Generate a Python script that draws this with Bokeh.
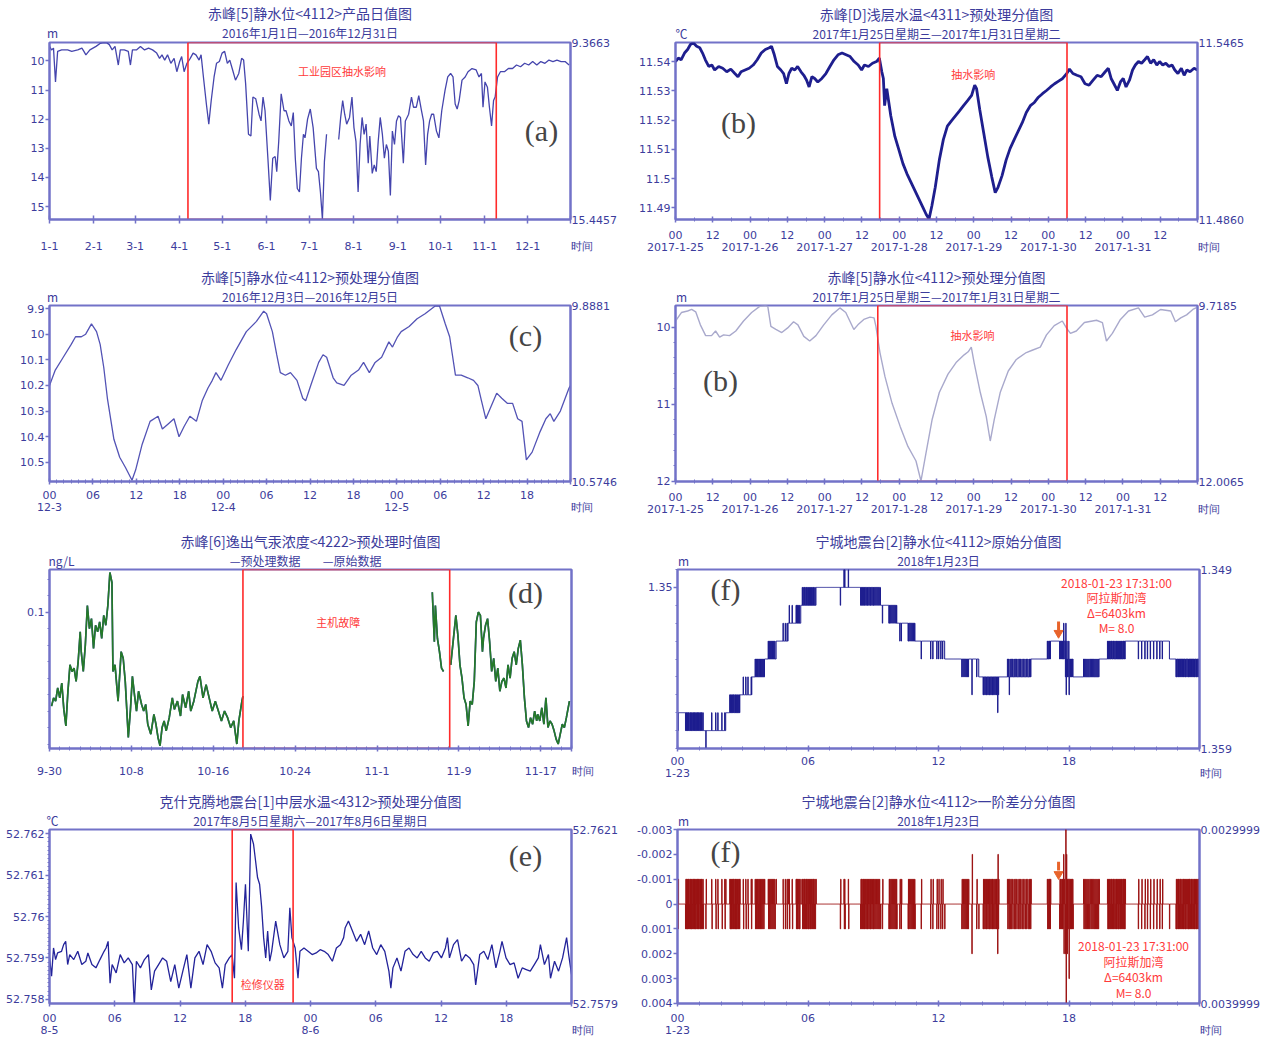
import math
from bokeh.plotting import figure
from bokeh.models import Range1d, LinearAxis, FixedTicker, CustomJSTickFormatter, Label
from bokeh.layouts import column, row
from bokeh.embed import file_html
from bokeh.resources import INLINE

NAN = float("nan")

# ---------------- (a) daily water level 2016 ----------------
a_ticks = [0, 31, 60, 91, 121, 152, 182, 213, 244, 274, 305, 335]
a_tick_labels = ["1-1", "2-1", "3-1", "4-1", "5-1", "6-1", "7-1", "8-1", "9-1", "10-1", "11-1", "12-1"]
a_day = [0, 1.4, 2.8, 4.2, 5.7, 8.5, 12.7, 15.6, 19.8, 22.7,
         24.1, 25.5, 28.3, 32.6, 35.4, 38.2, 40.2, 41.9, 43.9, 45.9,
         48.2, 49.6, 52.4, 55.2, 56.7, 58.1, 60.9, 63.7, 66.6, 69.4,
         72.2, 75.1, 77.1, 78.8, 80.7, 82.7, 85.0, 87.3, 89.2, 91.2,
         92.6, 94.3, 96.3, 98.6, 100.6, 102.6, 104.8, 106.2, 107.7, 109.9,
         111.6, 113.3, 115.3, 117.0, 119.0, 120.9, 122.7, 124.6, 126.3, 128.3,
         130.3, 132.6, 134.6, 136.0, 137.4, 139.4, 141.1, 142.5, 144.5, 146.8,
         148.2, 149.6, 151.0, 153.0, 154.7, 156.4, 158.1, 159.2, 160.6, 162.3,
         164.3, 165.7, 167.7, 169.4, 170.8, 172.2, 173.6, 175.1, 176.5, 177.9,
         179.0, 180.8, 182.7, 184.7, 187.0, 188.4, 189.8, 191.2, 192.6, 194.1,
         198.0, 202.6, 204.0, 205.4, 206.8, 208.2, 210.2, 211.9, 213.3, 214.7,
         216.2, 217.6, 219.0, 220.4, 221.8, 223.3, 224.4, 226.1, 227.5, 228.9,
         230.3, 231.7, 233.2, 234.6, 236.0, 237.4, 238.8, 240.2, 241.7, 243.1,
         244.5, 245.9, 247.9, 249.3, 251.6, 253.6, 255.0, 257.0, 258.7, 260.6,
         262.0, 263.5, 264.9, 266.3, 267.7, 269.1, 271.1, 272.8, 274.8, 277.1,
         279.0, 281.0, 282.7, 284.2, 285.6, 287.0, 289.0, 291.2, 293.2, 296.0,
         298.9, 300.9, 302.6, 303.7, 305.1, 306.8, 308.2, 309.7, 311.1, 312.2,
         313.9, 315.9, 318.7, 321.5, 324.4, 327.2, 330.0, 332.9, 335.7, 338.5,
         341.4, 344.2, 347.1, 349.9, 352.7, 355.5, 358.4, 361.2, 364.0]
a_level = [9.50, 9.62, 9.56, 10.72, 9.67, 9.62, 9.62, 9.67, 9.62, 9.56,
           9.67, 9.79, 9.62, 9.50, 9.40, 9.37, 9.38, 9.44, 9.62, 9.50,
           10.14, 9.62, 9.62, 9.67, 10.14, 9.62, 9.62, 9.50, 9.62, 9.56,
           9.62, 9.73, 9.91, 9.79, 9.97, 9.79, 10.08, 9.91, 10.37, 10.02,
           9.85, 10.37, 10.08, 9.91, 9.73, 9.79, 9.97, 9.79, 10.49, 11.48,
           12.17, 11.36, 10.55, 10.08, 10.02, 9.73, 9.67, 10.08, 9.97, 10.31,
           10.66, 10.43, 9.91, 9.97, 10.78, 12.52, 12.58, 11.24, 11.30, 11.83,
           12.06, 11.24, 11.71, 13.34, 14.79, 13.34, 13.28, 13.80, 12.76, 11.13,
           11.71, 11.71, 12.06, 12.23, 11.77, 13.34, 14.38, 14.50, 13.34, 12.52,
           12.64, 12.00, 11.65, 12.29, 13.69, 13.80, 14.50, 15.44, 13.45, 12.52,
           NAN, 12.70, 11.94, 11.36, 11.83, 12.17, 11.94, 11.24, 12.29, 12.76,
           14.50, 12.87, 11.94, 12.52, 12.17, 13.51, 12.58, 13.86, 13.57, 13.80,
           12.76, 11.94, 12.52, 13.34, 12.87, 13.10, 14.62, 12.41, 12.87, 12.06,
           11.88, 11.94, 13.51, 12.06, 11.83, 11.24, 11.59, 11.59, 11.19, 11.71,
           12.06, 13.57, 12.52, 12.06, 11.83, 11.83, 12.41, 12.64, 11.71, 11.01,
           10.55, 10.43, 10.55, 11.48, 11.65, 11.36, 10.66, 10.55, 10.37, 10.26,
           10.31, 10.55, 10.43, 11.59, 10.72, 10.90, 11.59, 12.23, 11.36, 11.24,
           10.55, 10.37, 10.37, 10.26, 10.26, 10.14, 10.20, 10.08, 10.14, 10.02,
           10.14, 10.02, 10.08, 9.97, 10.02, 9.97, 10.02, 10.02, 10.14]
a_box = [97, 313]

# ---------------- (b) shallow water temperature ----------------
week_ticks = [0, 12, 24, 36, 48, 60, 72, 84, 96, 108, 120, 132, 144, 156]
week_labels = ["00\n2017-1-25", "12", "00\n2017-1-26", "12", "00\n2017-1-27", "12", "00\n2017-1-28",
               "12", "00\n2017-1-29", "12", "00\n2017-1-30", "12", "00\n2017-1-31", "12"]
b_hour = [0, 0.9, 1.8, 2.9, 3.9, 4.8, 5.7, 6.8, 7.8, 8.7,
          9.6, 10.7, 11.7, 12.6, 13.9, 15.2, 16.5, 17.8, 19.1, 20.1,
          21.1, 22.4, 23.7, 25.0, 26.3, 27.6, 28.9, 30.2, 30.9, 31.8,
          32.8, 33.9, 34.8, 35.7, 36.5, 37.4, 38.4, 39.3, 40.4, 41.3,
          42.2, 43.0, 43.9, 44.8, 45.8, 47.1, 48.4, 49.7, 51.0, 52.3,
          53.6, 54.9, 56.2, 57.5, 58.8, 59.9, 60.8, 62.1, 63.4, 64.7,
          65.6, 66.4, 66.9, 67.3, 68.0, 69.3, 70.6, 71.9, 73.2, 74.5,
          75.8, 77.1, 78.4, 79.7, 80.7, 81.6, 82.5, 83.6, 84.9, 86.2,
          87.5, 88.8, 90.1, 91.4, 92.7, 94.0, 95.3, 96.3, 96.9, 97.9,
          99.2, 100.5, 101.8, 102.9, 103.8, 105.1, 106.4, 107.7, 109.0, 110.3,
          111.6, 112.9, 114.2, 115.5, 116.8, 118.1, 119.4, 120.7, 122.0, 123.3,
          124.6, 125.9, 126.8, 127.9, 129.2, 130.5, 131.8, 133.1, 134.4, 135.7,
          137.0, 138.3, 139.3, 140.2, 141.1, 142.2, 143.2, 144.1, 145.0, 146.1,
          147.1, 148.0, 149.0, 150.0, 151.0, 151.9, 152.9, 153.9, 154.9, 155.8,
          156.8, 157.8, 158.8, 159.8, 160.7, 161.7, 162.8, 163.7, 164.6, 165.6,
          166.9, 168.0]
b_temp = [11.5400, 11.5412, 11.5406, 11.5429, 11.5441, 11.5458, 11.5464, 11.5452, 11.5447, 11.5429,
          11.5406, 11.5383, 11.5388, 11.5371, 11.5383, 11.5377, 11.5365, 11.5374, 11.5359, 11.5348,
          11.5365, 11.5371, 11.5377, 11.5388, 11.5406, 11.5429, 11.5441, 11.5447, 11.5452, 11.5423,
          11.5383, 11.5371, 11.5359, 11.5324, 11.5359, 11.5377, 11.5371, 11.5383, 11.5365, 11.5353,
          11.5336, 11.5313, 11.5348, 11.5342, 11.5330, 11.5342, 11.5359, 11.5383, 11.5406, 11.5423,
          11.5429, 11.5423, 11.5417, 11.5400, 11.5388, 11.5371, 11.5388, 11.5383, 11.5394, 11.5400,
          11.5412, 11.5365, 11.5342, 11.5249, 11.5307, 11.5214, 11.5144, 11.5098, 11.5051, 11.5016,
          11.4987, 11.4958, 11.4929, 11.4900, 11.4877, 11.4862, 11.4906, 11.4970, 11.5063, 11.5133,
          11.5179, 11.5197, 11.5214, 11.5231, 11.5249, 11.5266, 11.5284, 11.5319, 11.5307, 11.5237,
          11.5156, 11.5074, 11.5005, 11.4952, 11.4970, 11.5010, 11.5063, 11.5103, 11.5133, 11.5162,
          11.5191, 11.5226, 11.5249, 11.5260, 11.5278, 11.5290, 11.5301, 11.5313, 11.5324, 11.5333,
          11.5342, 11.5359, 11.5374, 11.5359, 11.5353, 11.5348, 11.5324, 11.5319, 11.5336, 11.5353,
          11.5348, 11.5365, 11.5377, 11.5342, 11.5324, 11.5301, 11.5330, 11.5342, 11.5313, 11.5336,
          11.5371, 11.5388, 11.5400, 11.5394, 11.5406, 11.5417, 11.5394, 11.5406, 11.5388, 11.5400,
          11.5388, 11.5394, 11.5383, 11.5388, 11.5371, 11.5359, 11.5377, 11.5353, 11.5371, 11.5365,
          11.5377, 11.5371]
b_box = [65.7, 126.0]

# ---------------- (c) water level 12-3 .. 12-5 ----------------
c_ticks = [0, 6, 12, 18, 24, 30, 36, 42, 48, 54, 60, 66]
c_tick_labels = ["00\n12-3", "06", "12", "18", "00\n12-4", "06", "12", "18", "00\n12-5", "06", "12", "18"]
c_hour = [0, 0.8, 1.9, 3.0, 3.6, 4.4, 5.0, 5.8, 6.5, 7.0,
          7.5, 8.0, 8.9, 9.7, 10.5, 11.4, 11.9, 12.8, 13.9, 15.0,
          15.6, 16.4, 17.2, 17.9, 18.6, 19.4, 20.3, 21.1, 21.9, 22.5,
          23.0, 23.7, 24.7, 25.8, 27.2, 28.6, 29.6, 30.0, 30.8, 31.4,
          31.9, 32.6, 33.3, 34.2, 35.0, 35.4, 36.1, 37.2, 37.8, 38.3,
          39.2, 39.7, 40.7, 41.7, 42.7, 43.4, 44.2, 45.0, 45.9, 46.9,
          47.4, 48.1, 48.6, 49.7, 50.8, 51.9, 53.3, 53.9, 54.7, 55.3,
          56.1, 56.9, 57.8, 58.6, 59.2, 59.7, 60.3, 60.9, 61.8, 62.5,
          63.3, 64.0, 64.7, 65.3, 65.9, 66.7, 67.8, 68.6, 69.2, 69.7,
          70.6, 71.8, 72.0]
c_level = [10.20, 10.14, 10.09, 10.04, 10.01, 10.01, 10.00, 9.96, 9.99, 10.04,
           10.13, 10.25, 10.41, 10.48, 10.52, 10.57, 10.53, 10.43, 10.34, 10.32,
           10.37, 10.35, 10.33, 10.40, 10.36, 10.32, 10.34, 10.26, 10.21, 10.18,
           10.15, 10.18, 10.12, 10.06, 9.99, 9.95, 9.91, 9.92, 9.99, 10.08,
           10.15, 10.16, 10.15, 10.18, 10.25, 10.26, 10.20, 10.11, 10.08, 10.09,
           10.17, 10.19, 10.20, 10.16, 10.14, 10.11, 10.15, 10.11, 10.09, 10.03,
           10.05, 10.01, 9.99, 9.97, 9.94, 9.92, 9.89, 9.89, 9.96, 10.01,
           10.16, 10.16, 10.17, 10.18, 10.20, 10.26, 10.33, 10.29, 10.23, 10.25,
           10.27, 10.27, 10.33, 10.34, 10.49, 10.46, 10.38, 10.33, 10.31, 10.34,
           10.30, 10.21, 10.20]

# ---------------- (b') water level 1-25 .. 1-31 ----------------
b2_hour = [0, 1.9, 3.9, 5.2, 6.5, 8.0, 9.7, 11.6, 12.9, 14.2,
           15.5, 17.4, 19.4, 21.9, 24.5, 27.1, 29.0, 29.7, 30.7, 32.3,
           34.2, 36.1, 38.0, 39.4, 41.3, 43.2, 45.2, 47.7, 50.3, 52.9,
           54.8, 57.4, 58.7, 60.6, 62.6, 63.9, 64.5, 65.8, 67.4, 69.7,
           72.3, 74.8, 77.4, 79.0, 80.6, 82.6, 84.9, 87.7, 90.3, 92.9,
           94.2, 95.2, 96.1, 98.1, 100.0, 101.3, 102.6, 104.5, 107.1, 109.7,
           112.9, 114.8, 117.4, 119.4, 121.9, 124.5, 125.8, 127.1, 129.0, 131.6,
           135.5, 137.4, 138.7, 140.6, 143.2, 145.8, 149.0, 151.0, 153.5, 156.1,
           159.4, 160.9, 162.6, 164.5, 166.5, 168.0]
b2_level = [9.92, 9.81, 9.79, 9.77, 9.80, 9.97, 10.11, 10.11, 10.05, 10.13,
            10.10, 10.11, 10.05, 9.92, 9.81, 9.73, 9.72, 9.73, 9.99, 10.03,
            10.07, 10.01, 9.93, 9.97, 10.12, 10.18, 10.11, 9.97, 9.84, 9.75,
            9.81, 10.03, 9.97, 9.90, 9.87, 9.88, 9.99, 10.33, 10.64, 10.99,
            11.29, 11.55, 11.74, 12.00, 11.64, 11.20, 10.85, 10.61, 10.46, 10.36,
            10.32, 10.26, 10.46, 10.85, 11.16, 11.48, 11.20, 10.85, 10.57, 10.42,
            10.33, 10.30, 10.26, 10.10, 9.98, 9.92, 10.01, 10.08, 10.05, 9.94,
            9.91, 9.94, 10.18, 10.08, 9.90, 9.79, 9.75, 9.87, 9.84, 9.77,
            9.79, 9.93, 9.88, 9.84, 9.77, 9.74]
b2_box = [65.1, 126.0]

# ---------------- (d) soil-gas mercury ----------------
d_ticks = [0, 8, 16, 24, 32, 40, 48]
d_tick_labels = ["9-30", "10-8", "10-16", "10-24", "11-1", "11-9", "11-17"]
d_legend = ["—预处理数据", "—原始数据"]
d_day = [0.2, 0.4, 0.6, 0.8, 1.0, 1.2, 1.4, 1.6, 1.8, 2.0,
         2.2, 2.4, 2.6, 2.8, 3.0, 3.1, 3.3, 3.5, 3.7, 3.9,
         4.1, 4.3, 4.5, 4.7, 4.9, 5.1, 5.3, 5.5, 5.7, 5.9,
         6.1, 6.2, 6.4, 6.7, 7.0, 7.2, 7.4, 7.7, 7.9, 8.1,
         8.3, 8.5, 8.7, 9.0, 9.2, 9.4, 9.6, 9.9, 10.2, 10.4,
         10.6, 10.8, 11.0, 11.2, 11.4, 11.7, 12.0, 12.2, 12.5, 12.8,
         13.0, 13.3, 13.6, 13.8, 14.1, 14.5, 14.7, 15.0, 15.3, 15.6,
         15.9, 16.2, 16.5, 16.8, 17.1, 17.4, 17.7, 18.0, 18.3, 18.5,
         18.8, 18.9, 28.0,
         37.4, 37.6, 37.7, 37.9, 38.1, 38.3, 38.5, 38.8,
         39.2, 39.5, 39.7, 39.9, 40.1, 40.3, 40.5, 40.7, 40.9, 41.1,
         41.3, 41.5, 41.7, 41.9, 42.1, 42.3, 42.4, 42.6, 42.8, 43.0,
         43.2, 43.4, 43.6, 43.8, 44.0, 44.2, 44.4, 44.6, 44.8, 45.0,
         45.2, 45.4, 45.6, 45.8, 46.0, 46.2, 46.4, 46.6, 46.8, 47.0,
         47.2, 47.4, 47.6, 47.7, 47.9, 48.1, 48.3, 48.5, 48.7, 48.9,
         49.1, 49.3, 49.5, 49.7, 49.9, 50.1, 50.3, 50.5, 50.8]
d_conc = [0.043, 0.048, 0.046, 0.054, 0.048, 0.057, 0.041, 0.031, 0.052, 0.068,
          0.064, 0.066, 0.058, 0.070, 0.088, 0.076, 0.064, 0.080, 0.104, 0.090,
          0.096, 0.078, 0.092, 0.088, 0.094, 0.084, 0.098, 0.092, 0.104, 0.124,
          0.118, 0.064, 0.068, 0.046, 0.076, 0.072, 0.058, 0.024, 0.040, 0.061,
          0.050, 0.040, 0.052, 0.044, 0.040, 0.044, 0.032, 0.026, 0.038, 0.032,
          0.024, 0.019, 0.030, 0.034, 0.028, 0.036, 0.048, 0.041, 0.046, 0.037,
          0.050, 0.042, 0.052, 0.040, 0.046, 0.058, 0.061, 0.048, 0.056, 0.048,
          0.040, 0.046, 0.040, 0.034, 0.040, 0.036, 0.030, 0.034, 0.020, 0.034,
          0.046, 0.049, NAN,
          0.112, 0.082, 0.104, 0.084, 0.076, 0.066, 0.064, NAN,
          0.068, 0.086, 0.098, 0.086, 0.068, 0.060, 0.048, 0.044, 0.031, 0.046,
          0.044, 0.058, 0.094, 0.100, 0.098, 0.076, 0.084, 0.092, 0.096, 0.082,
          0.064, 0.072, 0.058, 0.066, 0.052, 0.058, 0.060, 0.054, 0.068, 0.060,
          0.072, 0.076, 0.068, 0.078, 0.083, 0.068, 0.048, 0.034, 0.030, 0.036,
          0.032, 0.040, 0.034, 0.038, 0.034, 0.042, 0.032, 0.048, 0.030, 0.034,
          0.032, 0.028, 0.023, 0.020, 0.026, 0.032, 0.030, 0.036, 0.046]
d_box = [18.9, 39.1]

# ---------------- (e) mid-layer water temperature ----------------
e_ticks = [0, 6, 12, 18, 24, 30, 36, 42]
e_tick_labels = ["00\n8-5", "06", "12", "18", "00\n8-6", "06", "12", "18"]
e_hour = [0.00, 0.19, 0.37, 0.56, 0.74, 1.11, 1.30, 1.49, 1.67, 1.86,
          2.23, 2.60, 2.97, 3.34, 3.53, 3.90, 4.27, 4.64, 5.02, 5.20,
          5.39, 5.57, 5.76, 6.13, 6.50, 6.87, 7.24, 7.62, 7.80, 7.99,
          8.36, 8.73, 9.10, 9.36, 9.66, 10.03, 10.40, 10.77, 11.15, 11.52,
          11.89, 12.26, 12.63, 13.00, 13.37, 13.75, 14.12, 14.49, 14.86, 15.23,
          15.60, 15.90, 16.16, 16.53, 16.79, 17.01, 17.16, 17.39, 17.65, 17.83,
          18.02, 18.28, 18.50, 18.76, 18.95, 19.13, 19.32, 19.50, 19.69, 19.88,
          20.06, 20.25, 20.43, 20.80, 21.18, 21.55, 21.92, 22.10, 22.29, 22.59,
          22.85, 23.03, 23.40, 23.78, 24.15, 24.52, 24.89, 25.26, 25.63, 26.01,
          26.38, 26.75, 27.05, 27.19, 27.49, 27.86, 28.23, 28.61, 28.98, 29.35,
          29.72, 30.09, 30.46, 30.83, 31.21, 31.39, 31.58, 31.95, 32.32, 32.69,
          33.06, 33.44, 33.81, 34.18, 34.55, 34.92, 35.29, 35.66, 36.04, 36.41,
          36.59, 36.78, 37.15, 37.52, 37.89, 38.26, 38.64, 39.01, 39.19, 39.56,
          39.94, 40.31, 40.68, 41.05, 41.42, 41.61, 41.98, 42.35, 42.72, 43.09,
          43.47, 43.84, 44.21, 44.58, 44.95, 45.14, 45.51, 45.88, 46.07, 46.44,
          46.81, 47.18, 47.55, 47.74, 48.00]
e_temp = [52.75900, 52.75856, 52.75924, 52.75896, 52.75912, 52.75916, 52.75932, 52.75940, 52.75884, 52.75908,
          52.75896, 52.75916, 52.75884, 52.75892, 52.75912, 52.75884, 52.75876, 52.75896, 52.75916, 52.75924,
          52.75940, 52.75839, 52.75884, 52.75864, 52.75908, 52.75888, 52.75900, 52.75884, 52.75783, 52.75892,
          52.75876, 52.75896, 52.75908, 52.75823, 52.75868, 52.75884, 52.75900, 52.75892, 52.75843, 52.75884,
          52.75827, 52.75868, 52.75908, 52.75827, 52.75900, 52.75916, 52.75884, 52.75932, 52.75916, 52.75888,
          52.75876, 52.75827, 52.75884, 52.75900, 52.75908, 52.75851, 52.76082, 52.75973, 52.75920, 52.75989,
          52.76078, 52.75916, 52.76199, 52.76175, 52.76134, 52.76094, 52.76078, 52.76025, 52.75949, 52.75900,
          52.75965, 52.75892, 52.75916, 52.75989, 52.75932, 52.75900, 52.75916, 52.76021, 52.75949, 52.75924,
          52.75851, 52.75916, 52.75924, 52.75916, 52.75908, 52.75912, 52.75920, 52.75916, 52.75908, 52.75892,
          52.75924, 52.75932, 52.75949, 52.75973, 52.75989, 52.75965, 52.75940, 52.75957, 52.75932, 52.75965,
          52.75924, 52.75908, 52.75932, 52.75916, 52.75868, 52.75827, 52.75876, 52.75900, 52.75868, 52.75916,
          52.75924, 52.75908, 52.75900, 52.75916, 52.75900, 52.75892, 52.75912, 52.75916, 52.75900, 52.75924,
          52.75949, 52.75900, 52.75932, 52.75944, 52.75892, 52.75908, 52.75900, 52.75884, 52.75835, 52.75908,
          52.75916, 52.75896, 52.75932, 52.75876, 52.75916, 52.75940, 52.75900, 52.75884, 52.75888, 52.75851,
          52.75876, 52.75872, 52.75868, 52.75884, 52.75900, 52.75932, 52.75884, 52.75908, 52.75851, 52.75892,
          52.75868, 52.75900, 52.75949, 52.75908, 52.75860]
e_box = [16.8, 22.4]

# ---------------- (f) Ningcheng water level, minute values ----------------
f_ticks = [0, 6, 12, 18]
f_tick_labels = ["00\n1-23", "06", "12", "18"]
f_base_min = [0, 22, 133, 172, 205, 240, 272, 305, 340, 382, 560, 605, 655, 737, 831, 975, 1030, 1075, 1163, 1235, 1357]
f_base_level = [1.357, 1.358, 1.357, 1.356, 1.355, 1.354, 1.353, 1.352, 1.351, 1.350, 1.351, 1.352, 1.353,
                1.354, 1.355, 1.354, 1.353, 1.355, 1.354, 1.353, 1.354]
# one-minute excursions: (level reached, minutes at which it occurs)
f_flicks = [
    (1.358, [1]),
    (1.357, [23, 25, 27, 29, 31, 34, 36, 38, 40, 43, 45, 47, 49, 52, 54, 56, 58, 61, 63, 65, 67, 70]),
    (1.359, [78]),
    (1.357, [94, 105, 111, 122, 130]),
    (1.356, [144, 146, 148, 151, 153, 155, 158, 160, 162, 165, 167, 170]),
    (1.355, [181, 188, 194, 203]),
    (1.354, [214, 217, 220, 222, 225, 228, 231, 234, 237]),
    (1.353, [250, 253, 256, 259, 262, 265, 268]),
    (1.352, [291, 297, 302]),
    (1.351, [308, 316, 327, 329, 331, 334, 336]),
    (1.350, [344, 346, 349, 351, 354, 356, 359, 361, 364, 366, 369, 371, 374, 376, 379]),
    (1.351, [449]),
    (1.349, [459, 461, 471]),
    (1.351, [505, 507, 510, 512, 515, 517, 520, 523, 525, 528, 531, 533, 536, 539, 541, 544, 547, 550, 553, 556]),
    (1.352, [565, 583, 585, 588, 591, 594, 597, 600, 603]),
    (1.353, [613, 617, 636, 638, 641, 644, 647, 650, 653]),
    (1.354, [672, 698, 704, 715, 720, 726, 731]),
    (1.355, [784, 787, 790, 793, 796, 799, 802, 825]),
    (1.356, [812]),
    (1.356, [843, 845, 848, 851, 853, 856, 859, 861, 864, 867, 869, 872, 875, 878, 880, 885]),
    (1.357, [883]),
    (1.354, [910, 913, 917, 920, 924, 928, 931, 935, 939, 943, 946, 950, 954, 958, 962, 966, 970, 973]),
    (1.356, [915]),
    (1.353, [1020, 1022, 1025, 1027, 1029]),
    (1.354, [1054, 1056, 1059, 1061, 1063, 1064, 1066]),
    (1.352, [1065, 1071]),
    (1.355, [1070]),
    (1.356, [1072]),
    (1.354, [1073, 1076, 1078, 1082, 1084, 1086, 1088, 1090]),
    (1.353, [1079]),
    (1.356, [1080]),
    (1.354, [1120, 1123, 1126, 1129, 1132, 1135, 1139, 1142, 1145, 1148, 1151, 1154, 1157, 1160]),
    (1.353, [1186, 1188, 1191, 1193, 1196, 1198, 1201, 1203, 1206, 1209, 1211, 1214, 1216, 1219, 1221, 1224,
             1226, 1229, 1231, 1233]),
    (1.354, [1271, 1280, 1289, 1296, 1304, 1313, 1322, 1330, 1337]),
    (1.355, [1375, 1377, 1380, 1382, 1385, 1387, 1390, 1393, 1395, 1397, 1400, 1402, 1405, 1408, 1410, 1412,
             1415, 1417, 1420, 1423, 1425, 1427, 1430, 1432, 1435, 1437]),
]
f_quake_hour = 17.52
f_quake_text = ["2018-01-23 17:31:00", "阿拉斯加湾", "Δ=6403km", "M= 8.0"]

# ---------------- styling ----------------
FRAME = "#7272c8"
TXT = "#3c3c9c"
CJK = "Noto Sans CJK SC"
NUM = "DejaVu Sans"
RED = "#ff2a2a"
RED_T = "#ff3a3a"
EM = "\u2003"
EN = "\u2002"
TIME_LABEL = EM + EM + "时间"


def panel(w, h, bl, br, bt, bb, xr, yr):
    p = figure(width=w, height=h, x_range=Range1d(*xr), y_range=Range1d(*yr),
               output_backend="svg", toolbar_location=None,
               min_border_left=bl, min_border_right=br, min_border_top=bt, min_border_bottom=bb)
    p.grid.visible = False
    p.outline_line_color = FRAME
    p.outline_line_width = 2
    p.background_fill_color = "white"
    p.border_fill_color = "white"
    return p


def style(ax, size=11, font=NUM):
    ax.axis_line_color = FRAME
    ax.axis_line_width = 2
    ax.major_tick_line_color = FRAME
    ax.major_tick_line_width = 1.5
    ax.minor_tick_line_color = FRAME
    ax.minor_tick_line_width = 1
    ax.major_label_text_color = TXT
    ax.major_label_text_font = font
    ax.major_label_text_font_size = f"{size}px"


def xaxis(p, ticks, labels, minor, standoff, tin=3, tout=3, two_line=True):
    ax = p.xaxis[0]
    xe = p.x_range.end
    all_ticks = list(ticks) + [xe]
    all_labels = list(labels) + [("\n" if two_line else "") + TIME_LABEL]
    ax.ticker = FixedTicker(ticks=all_ticks, minor_ticks=minor)
    ax.major_label_overrides = dict(zip(all_ticks, all_labels))
    style(ax)
    ax.major_label_text_line_height = 0.95
    ax.major_tick_in = tin
    ax.major_tick_out = tout
    ax.minor_tick_in = 2
    ax.minor_tick_out = 2
    ax.major_label_standoff = standoff


def yaxis(p, ticks, minor, right_labels):
    ax = p.yaxis[0]
    ax.ticker = FixedTicker(ticks=ticks, minor_ticks=minor)
    ax.formatter = CustomJSTickFormatter(code="return String(+tick.toFixed(7));")
    style(ax)
    ax.major_tick_in = 0
    ax.major_tick_out = 4
    ax.minor_tick_in = 0
    ax.minor_tick_out = 2
    ax.major_label_standoff = 1
    yb, yt = p.y_range.start, p.y_range.end
    r = LinearAxis(ticker=FixedTicker(ticks=[yb, yt]),
                   major_label_overrides={yb: right_labels[0], yt: right_labels[1]})
    style(r)
    r.major_tick_in = 0
    r.major_tick_out = 0
    r.minor_tick_in = 0
    r.minor_tick_out = 0
    r.major_label_standoff = 1
    p.add_layout(r, "right")


def heads(p, title, items, t_standoff=-4, a_standoff=1):
    """Main title (figure title) and one header row (unit + subtitle) as a label-only top axis."""
    p.title.text = title
    p.title.align = "center"
    p.title.text_font = CJK
    p.title.text_font_size = "14px"
    p.title.text_font_style = "normal"
    p.title.text_color = TXT
    try:
        p.title.standoff = t_standoff
    except Exception:
        p.title.standoff = 0
    ticks = [t for t, _ in items]
    labels = [s for _, s in items]
    top = LinearAxis(ticker=FixedTicker(ticks=ticks, minor_ticks=[]),
                     major_label_overrides=dict(zip(ticks, labels)))
    style(top, size=12, font=CJK)
    top.axis_line_color = None
    top.major_tick_line_color = None
    top.minor_tick_line_color = None
    top.major_tick_in = 0
    top.major_tick_out = 0
    top.minor_tick_in = 0
    top.minor_tick_out = 0
    top.major_label_standoff = a_standoff
    p.add_layout(top, "above")


def note(p, where, dx, dy, text, size=12, color=TXT, font=CJK, xval=None):
    xs, xe = p.x_range.start, p.x_range.end
    yb, yt = p.y_range.start, p.y_range.end
    x = {"l": xs, "r": xe, "c": (xs + xe) / 2}[where[1]] if xval is None else xval
    y = yt if where[0] == "t" else yb
    p.add_layout(Label(x=x, y=y, x_offset=dx, y_offset=dy, text=text, text_font=font,
                       text_font_size=f"{size}px", text_color=color, text_align="center",
                       text_baseline="middle"))


def tag(p, where, dx, dy, text):
    note(p, where, dx, dy, text, size=30, color="#454545", font="Liberation Serif")


def redbox(p, box):
    p.quad(left=[box[0]], right=[box[1]], bottom=[p.y_range.start], top=[p.y_range.end],
           fill_alpha=0, line_color=RED, line_width=1.6)


W = 632
hours_minor6 = [h for h in range(0, 169, 6)]

# ---- (a)
pa = panel(W, 262, 49, 62, 39, 43, (0, 365), (15.4457, 9.3663))
pa.line(a_day, a_level, line_color="#4545ad", line_width=1.3)
redbox(pa, a_box)
xaxis(pa, a_ticks, a_tick_labels, [], 16, tin=4, tout=4, two_line=False)
yaxis(pa, [10, 11, 12, 13, 14, 15], [], ["15.4457", "9.3663"])
heads(pa, "赤峰[5]静水位<4112>产品日值图", [(0, EN + "m"), (182.5, "2016年1月1日—2016年12月31日")], a_standoff=2)
note(pa, "tc", 0, -28, "工业园区抽水影响", size=11, color=RED_T, xval=sum(a_box) / 2)
tag(pa, "tr", -29, -88, "(a)")

# ---- (b)
pb = panel(W, 262, 43, 67, 42, 42, (0, 168), (11.486, 11.5465))
pb.line(b_hour, b_temp, line_color="#1e1e8e", line_width=2.8)
redbox(pb, b_box)
xaxis(pb, week_ticks, week_labels, hours_minor6, 6)
yaxis(pb, [11.49, 11.5, 11.51, 11.52, 11.53, 11.54], [], ["11.4860", "11.5465"])
heads(pb, "赤峰[D]浅层水温<4311>预处理分值图", [(0, EM + "℃"), (84, "2017年1月25日星期三—2017年1月31日星期二")])
note(pb, "tc", 0, -31, "抽水影响", size=11, color=RED_T, xval=sum(b_box) / 2)
tag(pb, "tl", 63, -80, "(b)")

# ---- (c)
pc = panel(W, 263, 49, 62, 43, 40, (0, 72), (10.5746, 9.8881))
pc.line(c_hour, c_level, line_color="#5353b5", line_width=1.3)
xaxis(pc, c_ticks, c_tick_labels, list(range(0, 73)), 4)
yaxis(pc, [9.9, 10.0, 10.1, 10.2, 10.3, 10.4, 10.5], [], ["10.5746", "9.8881"])
heads(pc, "赤峰[5]静水位<4112>预处理分值图", [(0, EN + "m"), (36, "2016年12月3日—2016年12月5日")])
tag(pc, "tr", -45, -30, "(c)")

# ---- (b')
pb2 = panel(W, 263, 43, 67, 41, 44, (0, 168), (12.0065, 9.7185))
pb2.line(b2_hour, b2_level, line_color="#a9a9cc", line_width=1.4)
redbox(pb2, b2_box)
xaxis(pb2, week_ticks, week_labels, hours_minor6, 6)
yaxis(pb2, [10, 11, 12], [10.2, 10.4, 10.6, 10.8, 11.2, 11.4, 11.6, 11.8], ["12.0065", "9.7185"])
heads(pb2, "赤峰[5]静水位<4112>预处理分值图", [(0, EM + "m"), (84, "2017年1月25日星期三—2017年1月31日星期二")])
note(pb2, "tc", 0, -29, "抽水影响", size=11, color=RED_T, xval=sum(b2_box) / 2)
tag(pb2, "tl", 45, -75, "(b)")

# ---- (d)
pd_ = panel(W, 260, 49, 61, 44, 34, (0, 51), (0.0173, 0.1258))
pd_.line(d_day, d_conc, line_color="#3333b0", line_width=1.6)
pd_.line(d_day, d_conc, line_color="#257a29", line_width=1.7)
redbox(pd_, d_box)
xaxis(pd_, d_ticks, d_tick_labels, list(range(0, 52)), 13, two_line=False)
yaxis(pd_, [0.1], [0.02, 0.03, 0.04, 0.05, 0.06, 0.07, 0.08, 0.09, 0.11, 0.12], ["", ""])
heads(pd_, "赤峰[6]逸出气汞浓度<4222>预处理时值图",
      [(0, EM + EM + "ng/L"), (21.07, d_legend[0]), (29.56, d_legend[1])])
note(pd_, "tc", -8, -52, "主机故障", size=11, color=RED_T, xval=sum(d_box) / 2)
tag(pd_, "tr", -46, -23, "(d)")

# ---- (f) level, built from base steps + one-minute excursions
f_level = []
for m in range(1440):
    lv = f_base_level[0]
    for t0, v0 in zip(f_base_min, f_base_level):
        if m >= t0:
            lv = v0
    f_level.append(lv)
for lv, mins in f_flicks:
    for m in mins:
        f_level[m] = lv
f_hour = [m / 60 for m in range(1440)] + [24.0]
f_level.append(f_level[-1])
f_diff = [0.0] + [round(f_level[i] - f_level[i - 1], 4) for i in range(1, len(f_level))]

pf = panel(W, 260, 45, 65, 41, 37, (0, 24), (1.359, 1.349))
pf.step(f_hour, f_level, mode="after", line_color="#1d1d8f", line_width=1)
xaxis(pf, f_ticks, f_tick_labels, list(range(0, 25)), 3)
yaxis(pf, [1.35], [1.349, 1.351, 1.352, 1.353, 1.354, 1.355, 1.356, 1.357, 1.358, 1.359], ["1.359", "1.349"])
heads(pf, "宁城地震台[2]静水位<4112>原始分值图", [(0, EM + "m"), (12, "2018年1月23日")])
pf.segment(x0=[f_quake_hour], y0=[1.3519], x1=[f_quake_hour], y1=[1.3524], line_color="#e8632a", line_width=3)
pf.scatter([f_quake_hour], [1.35255], marker="inverted_triangle", size=9, color="#e8632a")
for i, t in enumerate(f_quake_text):
    note(pf, "tr", -83, -13 - 15 * i, t, size=12, color=RED_T)
tag(pf, "tl", 48, -20, "(f)")

# ---- (e)
pe = panel(W, 254, 49, 61, 41, 34, (0, 48), (52.7579, 52.7621))
pe.line(e_hour, e_temp, line_color="#23239a", line_width=1.3)
redbox(pe, e_box)
xaxis(pe, e_ticks, e_tick_labels, [], 5)
yaxis(pe, [52.758, 52.759, 52.76, 52.761, 52.762],
      [52.7581, 52.7582, 52.7583, 52.7584, 52.7585, 52.7586, 52.7587, 52.7588, 52.7589,
       52.7591, 52.7592, 52.7593, 52.7594, 52.7595, 52.7596, 52.7597, 52.7598, 52.7599,
       52.7601, 52.7602, 52.7603, 52.7604, 52.7605, 52.7606, 52.7607, 52.7608, 52.7609,
       52.7611, 52.7612, 52.7613, 52.7614, 52.7615, 52.7616, 52.7617, 52.7618, 52.7619],
      ["52.7579", "52.7621"])
heads(pe, "克什克腾地震台[1]中层水温<4312>预处理分值图",
      [(0, EN + "℃"), (24, "2017年8月5日星期六—2017年8月6日星期日")])
note(pe, "bc", 0, 20, "检修仪器", size=11, color=RED_T, xval=sum(e_box) / 2)
tag(pe, "tr", -46, -26, "(e)")

# ---- (f2) first difference
pf2 = panel(W, 254, 45, 65, 44, 34, (0, 24), (0.00400001, -0.00300001))
pf2.step(f_hour, f_diff, mode="after", line_color="#9b1212", line_width=1)
xaxis(pf2, f_ticks, f_tick_labels, list(range(0, 25)), 5)
yaxis(pf2, [-0.003, -0.002, -0.001, 0, 0.001, 0.002, 0.003, 0.004], [], ["0.0039999", "0.0029999"])
heads(pf2, "宁城地震台[2]静水位<4112>一阶差分分值图", [(0, EM + "m"), (12, "2018年1月23日")])
pf2.segment(x0=[f_quake_hour], y0=[-0.0017], x1=[f_quake_hour], y1=[-0.00135], line_color="#e8632a", line_width=3)
pf2.scatter([f_quake_hour], [-0.0012], marker="inverted_triangle", size=9, color="#e8632a")
for i, t in enumerate(f_quake_text):
    note(pf2, "br", -66, 58 - 15.5 * i, t, size=12, color=RED_T)
tag(pf2, "tl", 48, -22, "(f)")

layout = column(row(pa, pb), row(pc, pb2), row(pd_, pf), row(pe, pf2))
open("out.html", "w").write(file_html(layout, INLINE))
